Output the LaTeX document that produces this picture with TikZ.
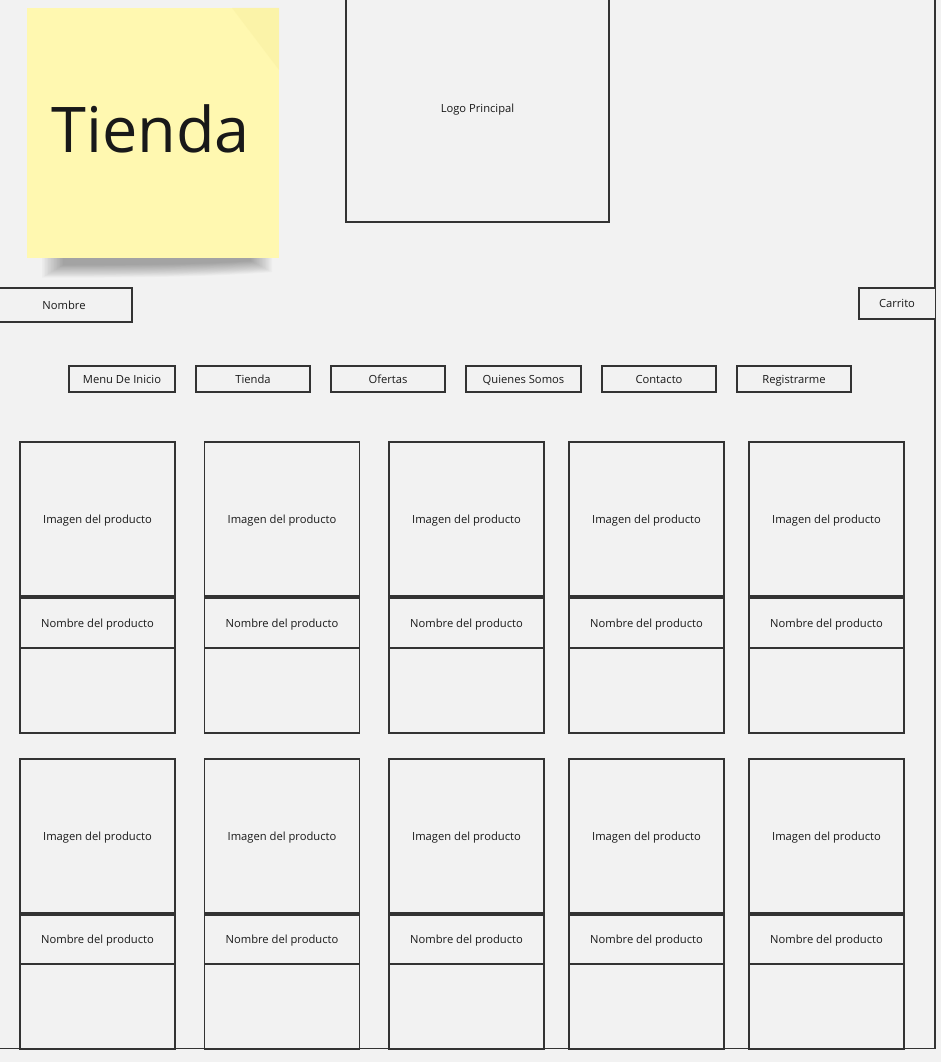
\documentclass[tikz,border=0pt]{standalone}
\usepackage{fontspec}
\setmainfont{Open Sans}
\usetikzlibrary{positioning}
\definecolor{bg}{HTML}{F2F2F2}
\definecolor{ln}{HTML}{333333}
\definecolor{sticky}{HTML}{FFF8B0}
\definecolor{stickyfold}{HTML}{F9F0A2}
\tikzset{
  box/.style={draw=ln, line width=1.5pt, fill=bg, rectangle, inner sep=0pt, text height=8pt, text depth=0pt, font=\fontsize{11.2}{13}\selectfont, text=black!90},
  stickynote/.style={fill=sticky, rectangle, inner sep=0pt},
}
\begin{document}
\begin{tikzpicture}[x=1pt,y=-1pt]
\useasboundingbox (0,0) rectangle (941,1062);
\fill[bg] (0,0) rectangle (941,1062);
% outer frame
\node[box, fill=none, minimum width=950pt, minimum height=1064pt, anchor=south east] (frame) at (935.5,1049) {};
% sticky shadow
\foreach \i in {0,1,...,14} {
  \pgfmathsetmacro{\xl}{42+1.5*\i}
  \pgfmathsetmacro{\xr}{272-1.5*\i}
  \pgfmathsetmacro{\yr}{261+0.8*(14-\i)}
  \pgfmathsetmacro{\yl}{265+0.9*(14-\i)}
  \fill[black, opacity=0.025] (\xl,250) -- (\xr,250) -- (\xr,\yr) .. controls (200,\yl) and (120,\yl) .. (\xl,\yl) -- cycle;
}
\node[stickynote, minimum width=252pt, minimum height=250pt] (note) at (153,133) {};
\fill[stickyfold, opacity=0.5] (232,8) -- (279,8) -- (279,70) -- cycle;
\node[font=\fontsize{63}{68}\selectfont, text=black!90, inner sep=0pt] (notetext) at (150.5,129) {Tienda};
% logo
\node[box, minimum width=263pt, minimum height=226pt] (logo) at (477.5,109) {Logo Principal};
% nombre & carrito
\node[box, minimum width=136pt, minimum height=34pt] (nombre) at (64,305) {Nombre};
\node[box, minimum width=76.5pt, minimum height=31pt] (carrito) at (897,303.5) {Carrito};
% menu
\foreach \n/\cx/\w/\t in {m1/122/106/Menu De Inicio, m2/253/114/Tienda, m3/388/114/Ofertas, m4/523.5/115/Quienes Somos, m5/659/114/Contacto, m6/794/114/Registrarme} {
  \node[box, minimum width=\w pt, minimum height=26pt] (\n) at (\cx,379) {\t};
}
% product cards
\foreach \r/\yi/\yn/\hn/\yb in {1/519/623/50/690.5, 2/836/939.5/49/1006.5} {
  \foreach \c/\cx in {1/97.5, 2/282, 3/466.5, 4/646.5, 5/826.5} {
    \node[box, minimum width=155pt, minimum height=154pt] (img-\r-\c) at (\cx,\yi) {Imagen del producto};
    \node[box, minimum width=155pt, minimum height=\hn pt] (name-\r-\c) at (\cx,\yn) {Nombre del producto};
    \node[box, minimum width=155pt, minimum height=85pt] (rest-\r-\c) at (\cx,\yb) {};
  }
}
\end{tikzpicture}
\end{document}
